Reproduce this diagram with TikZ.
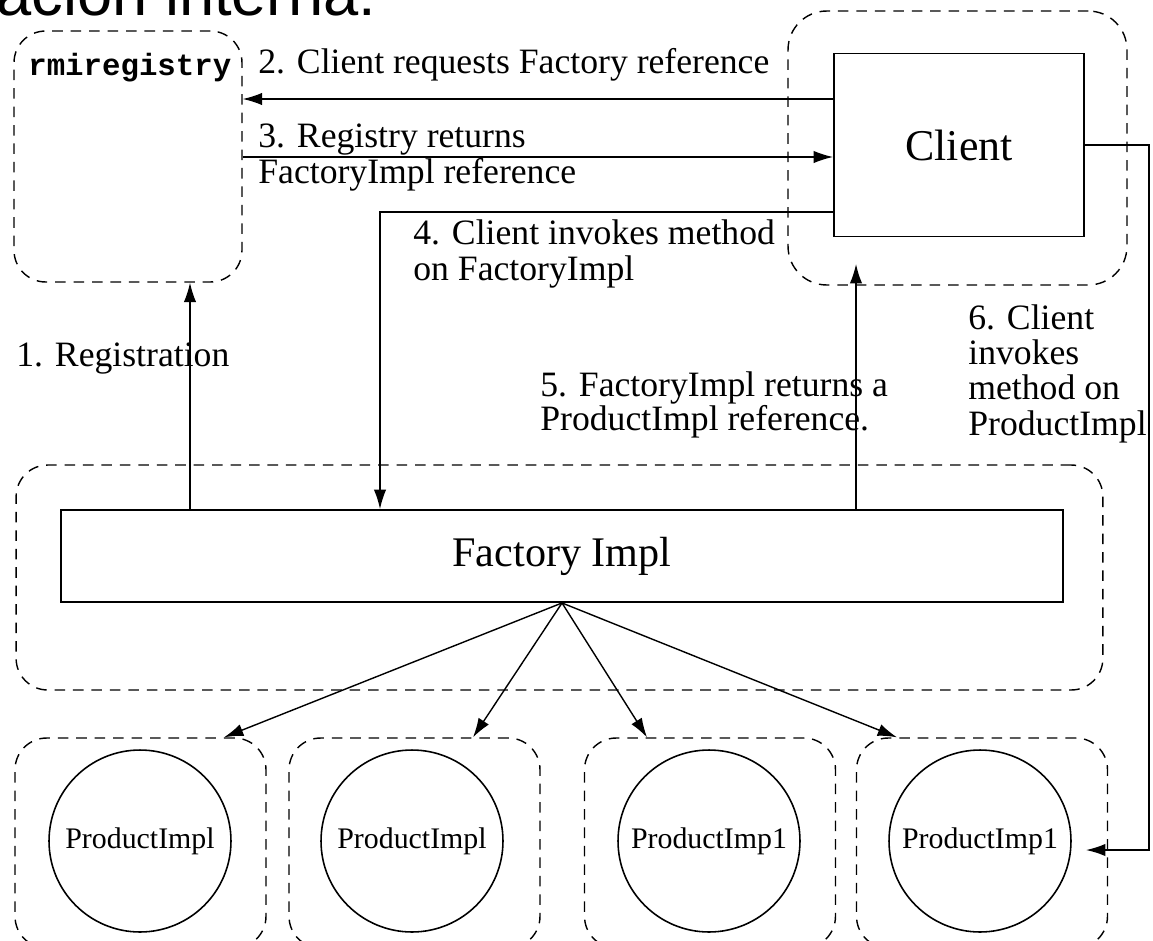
\documentclass[tikz,border=0pt]{standalone}
\usepackage{fontspec}
\setmainfont{Liberation Serif}
\setmonofont{Liberation Mono}
\newfontfamily\headfont{Liberation Sans}
\usetikzlibrary{arrows.meta}

\begin{document}
\begin{tikzpicture}[
  x=0.02cm, y=-0.02cm,
  zone/.style={draw, dash pattern=on 6pt off 4.5pt, line width=0.8pt, rounded corners=18pt, inner sep=0pt},
  solidbox/.style={draw, line width=1.1pt, inner sep=0pt},
  prod/.style={circle, draw, line width=0.9pt, minimum size=3.64cm, inner sep=0pt, font=\fontsize{17}{20}\selectfont},
  lbl/.style={inner sep=0pt, align=left, anchor=base west, font=\fontsize{20.3}{20}\selectfont},
  arr/.style={-{Latex[length=11pt,width=7pt]}, line width=0.8pt}
]
\useasboundingbox (0,0) rectangle (1153,940);
\clip (0,0) rectangle (1153,940);

\node[anchor=base west, inner sep=0pt, font=\headfont\fontsize{36}{40}\selectfont] (title) at (-4,15) {ación interna:};

% dashed zones
\node[zone, minimum width=4.56cm, minimum height=5.02cm] (rmizone) at (128,156.5) {};
\node[zone, rounded corners=22pt, minimum width=6.78cm, minimum height=5.48cm] (clientzone) at (957.5,148) {};
\node[zone, minimum width=21.74cm, minimum height=4.5cm] (factoryzone) at (559.5,577.5) {};
\foreach \i/\x in {1/140.5,2/414.5,3/710,4/982}
  \node[zone, minimum width=5.02cm, minimum height=4.2cm] (pzone\i) at (\x,843) {};

% objects
\node[anchor=base west, inner sep=0pt, font=\ttfamily\bfseries\fontsize{17.5}{20}\selectfont] (rmi) at (28,75) {rmiregistry};
\node[solidbox, minimum width=5cm, minimum height=3.66cm, font=\fontsize{25}{30}\selectfont] (client) at (959,145) {Client};
\node[solidbox, minimum width=20.04cm, minimum height=1.84cm, font=\fontsize{24}{30}\selectfont] (factory) at (562,556) {Factory Impl};
\foreach \i/\x/\t in {1/140/ProductImpl,2/412/ProductImpl,3/709/ProductImp1,4/980/ProductImp1}
  \node[prod] (p\i) at (\x,841) {\t};

% connection points
\coordinate (reg) at (190,0);
\coordinate (req) at (0,99);
\coordinate (ret) at (0,157);
\coordinate (inv) at (380,212);
\coordinate (ans) at (856,264);
\coordinate (back) at (1149,850);
\coordinate (p4in) at (1086,850);

% messages
\draw[arr] (reg |- factory.north) -- (reg |- rmizone.south);
\draw[arr] (req -| client.west) -- (req -| rmizone.east);
\draw[arr] (ret -| rmizone.east) -- (ret -| client.west);
\draw[arr] (inv -| client.west) -- (inv) -- (inv |- factory.north);
\draw[arr] (ans |- factory.north) -- (ans);
\draw[arr] (client.east) -- (client.east -| back) -- (back) -- (p4in);
\foreach \i/\x in {1/224,2/473,3/647,4/897}{
  \coordinate (t\i) at (\x,0);
  \draw[arr] (factory.south) -- (t\i |- pzone\i.north);
}

\node[lbl] (l1) at (16,366) {1. Registration};
\node[lbl] (l2) at (258,73) {2. Client requests Factory reference};
\node[lbl] (l3) at (258,183) {3. Registry returns\\FactoryImpl reference};
\node[lbl] (l4) at (413,280) {4. Client invokes method\\on FactoryImpl};
\node[lbl, font=\fontsize{20.3}{19}\selectfont] (l5) at (540,430) {5. FactoryImpl returns a\\ProductImpl reference.};
\node[lbl, font=\fontsize{20.3}{20}\selectfont] (l6) at (968,435) {6. Client\\invokes\\method on\\ProductImpl};
\end{tikzpicture}
\end{document}
